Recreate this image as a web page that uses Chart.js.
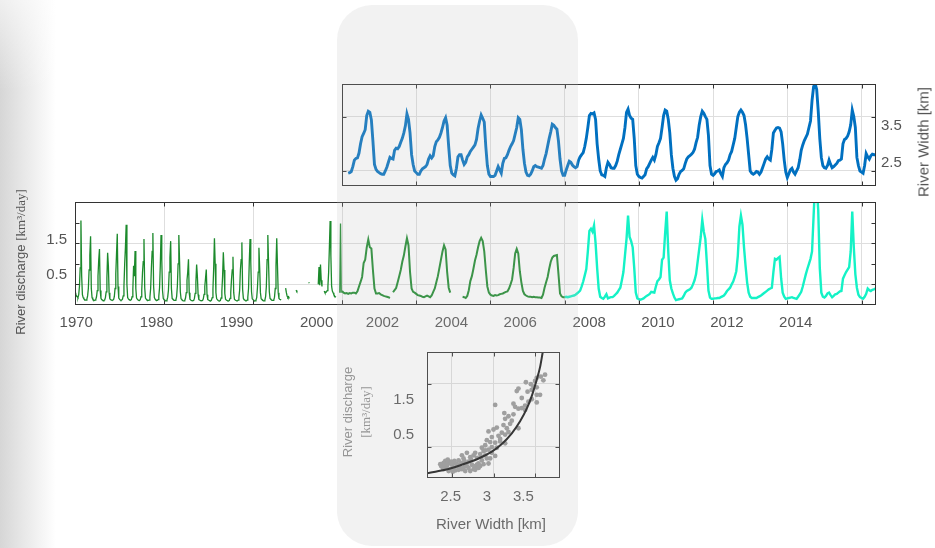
<!DOCTYPE html>
<html>
<head>
<meta charset="utf-8">
<script src="https://cdn.jsdelivr.net/npm/chart.js@4.4.0/dist/chart.umd.min.js"></script>
<style>
  body { margin: 0; width: 935px; height: 548px; background: #fff; position: relative; overflow: hidden;
         font-family: 'Liberation Sans', Arial, sans-serif; }
  canvas { position: absolute; z-index: 1; }
  #shadow { position: absolute; left: 0; top: 0; width: 56px; height: 548px;
            background: linear-gradient(to bottom, rgba(255,255,255,0.6), rgba(255,255,255,0) 90px),
                        linear-gradient(to right, #d6d6d6, #e9e9e9 45%, #ffffff); }
  #band { position: absolute; left: 337px; top: 5px; width: 241px; height: 541px; border-radius: 35px;
          background: rgba(190,190,190,0.2); z-index: 5; }
  .vt { position: absolute; z-index: 2; transform: translate(-50%, -50%) rotate(-90deg); white-space: nowrap; color: #555; }
  .serif { font-family: 'Liberation Serif', 'Times New Roman', serif; }
</style>
</head>
<body>
<div id="shadow"></div>
<canvas id="widthChart" width="635" height="130" style="left:300px;top:70px"></canvas>
<canvas id="dischargeChart" width="860" height="160" style="left:40px;top:185px"></canvas>
<canvas id="ratingChart" width="200" height="210" style="left:380px;top:330px"></canvas>

<div class="vt" style="left:923px;top:142px;font-size:15px">River Width [km]</div>
<div class="vt" style="left:21px;top:262px;font-size:13px">River discharge <span class="serif">[km³/day]</span></div>
<div class="vt" style="left:357px;top:412px;font-size:13px;line-height:18px;text-align:center;color:#8c8c8c">River discharge<br><span class="serif">[km³/day]</span></div>
<div style="position:absolute;z-index:2;left:491px;top:523px;transform:translate(-50%,-50%);font-size:15px;color:#555;white-space:nowrap">River Width [km]</div>
<div id="band"></div>

<script>
// river width [km], from 2000.0, 24 samples a year
const widthKm = [
  null, null, null, null, 2.46, 2.47, 2.49, 2.58, 2.70, 2.73, 2.74, 2.83, 3.00, 3.13, 3.19, 3.26, 3.52, 3.60, 3.58, 3.44, 3.05, 2.62, 2.53, 2.49,
  2.47, 2.45, 2.44, 2.44, 2.50, 2.57, 2.66, 2.75, 2.73, 2.72, 2.88, 2.92, 2.91, 2.95, 3.03, 3.10, 3.20, 3.33, 3.55, 3.45, 3.20, 2.80, 2.62, 2.50,
  2.47, 2.44, 2.44, 2.50, 2.54, 2.56, 2.58, 2.62, 2.72, 2.78, 2.74, 2.78, 2.95, 3.04, 3.07, 3.12, 3.20, 3.30, 3.42, 3.48, 3.34, 2.95, 2.60, 2.46,
  2.43, 2.41, 2.55, 2.76, 2.80, 2.80, 2.70, 2.62, 2.66, 2.76, 2.80, 2.86, 2.90, 2.94, 2.98, 3.08, 3.28, 3.42, 3.53, 3.47, 3.40, 2.95, 2.60, 2.44,
  2.40, 2.40, 2.40, 2.42, 2.50, 2.58, 2.52, 2.46, 2.64, 2.73, 2.74, 2.80, 2.88, 2.95, 3.00, 3.06, 3.18, 3.30, 3.48, 3.45, 3.26, 2.90, 2.64, 2.48,
  2.42, 2.41, 2.44, 2.50, 2.58, 2.60, 2.58, 2.57, 2.56, 2.55, 2.60, 2.72, 2.82, 2.96, 3.10, 3.22, 3.36, 3.34, 3.30, 3.27, 3.05, 2.72, 2.50, 2.42,
  2.42, 2.52, 2.60, 2.68, 2.66, 2.61, 2.58, 2.56, 2.58, 2.70, 2.76, 2.80, 2.84, 2.95, 3.10, 3.30, 3.52, 3.56, 3.55, 3.57, 3.45, 3.00, 2.72, 2.50,
  2.43, 2.42, 2.40, 2.56, 2.66, 2.62, 2.56, 2.55, 2.55, 2.60, 2.68, 2.80, 2.90, 3.00, 3.10, 3.30, 3.58, 3.64, 3.52, 3.47, 3.45, 3.10, 2.60, 2.44,
  2.40, 2.38, 2.37, 2.40, 2.43, 2.54, 2.58, 2.64, 2.70, 2.75, 2.70, 2.80, 2.95, 3.02, 3.10, 3.30, 3.52, 3.62, 3.60, 3.45, 3.20, 2.80, 2.55, 2.40,
  2.33, 2.36, 2.44, 2.49, 2.51, 2.54, 2.64, 2.72, 2.76, 2.78, 2.81, 2.84, 2.90, 3.02, 3.12, 3.34, 3.50, 3.60, 3.56, 3.50, 3.45, 3.15, 2.60, 2.44,
  2.42, 2.45, 2.49, 2.50, 2.52, 2.45, 2.40, 2.56, 2.62, 2.65, 2.70, 2.80, 2.86, 2.98, 3.10, 3.30, 3.50, 3.58, 3.62, 3.58, 3.52, 3.35, 3.10, 2.80,
  2.50, 2.46, 2.44, 2.46, 2.49, 2.48, 2.44, 2.48, 2.56, 2.64, 2.72, 2.76, 2.72, 2.70, 2.90, 3.20, 3.25, 3.29, 3.30, 3.29, 3.22, 3.00, 2.70, 2.48,
  2.38, 2.45, 2.52, 2.55, 2.48, 2.44, 2.50, 2.56, 2.70, 2.88, 2.98, 3.06, 3.12, 3.18, 3.30, 3.42, 3.80, 4.05, 4.11, 4.00, 3.60, 3.10, 2.75, 2.60,
  2.56, 2.55, 2.60, 2.70, 2.62, 2.56, 2.58, 2.61, 2.64, 2.69, 2.70, 2.72, 3.00, 3.08, 3.10, 3.14, 3.22, 3.35, 3.62, 3.50, 3.30, 2.75, 2.60, 2.50,
  2.48, 2.46, 2.60, 2.82, 2.76, 2.72, 2.78, 2.81, 2.80, 2.80
];

// river discharge [km3/day], same sampling as widthKm
const dischargeKm3 = [
  0.34, 0.30, 0.28, 0.29, 0.27, 0.29, 0.28, 0.30, 0.30, 0.28, 0.33, 0.45, 0.56, 0.68, 1.02, 1.10, 1.40, 1.59, 1.40, 1.37, 0.85, 0.40, 0.28, 0.28,
  0.29, 0.26, 0.24, 0.22, 0.21, 0.20, 0.19, 0.17, null, 0.31, 0.36, 0.41, 0.55, 0.70, 0.85, 1.05, 1.20, 1.42, 1.62, 1.45, 0.80, 0.40, 0.32, 0.30,
  0.27, 0.24, 0.23, 0.22, 0.20, 0.19, 0.21, 0.23, 0.21, 0.19, 0.23, 0.32, 0.40, 0.55, 0.70, 0.90, 1.10, 1.30, 1.45, 1.35, 0.80, 0.42, 0.30, null,
  null, null, null, null, null, null, 0.20, 0.19, 0.17, 0.22, 0.36, 0.58, 0.70, 0.88, 1.08, 1.22, 1.40, 1.55, 1.63, 1.55, 1.30, 0.85, 0.45, 0.30,
  0.25, 0.23, 0.22, 0.24, 0.23, 0.24, 0.26, 0.27, 0.28, 0.30, 0.32, 0.33, 0.40, 0.50, 0.62, 0.90, 1.25, 1.36, 1.25, 0.82, 0.55, 0.34, 0.26, 0.23,
  0.21, 0.20, 0.20, 0.19, 0.20, 0.19, 0.19, 0.18, 0.18, 0.17, 0.25, 0.42, 0.55, 0.68, 0.88, 1.05, 1.15, 1.19, 1.20, 1.21, 0.75, 0.28, 0.21, 0.19,
  0.19, 0.20, 0.19, 0.20, 0.21, 0.22, 0.23, 0.25, 0.28, 0.31, 0.35, 0.45, 0.57, 0.72, 0.87, 1.30, 1.80, 1.85, 1.78, 1.93, 1.50, 0.90, 0.40, 0.20,
  0.17, 0.15, 0.20, 0.26, 0.16, 0.18, 0.19, 0.19, 0.22, 0.26, 0.30, 0.36, 0.42, 0.60, 0.80, 1.20, 1.60, 2.17, 1.65, 1.55, 1.40, 0.90, 0.30, 0.16,
  0.14, 0.13, 0.14, 0.16, 0.19, 0.22, 0.24, 0.27, 0.32, 0.31, 0.30, 0.45, 0.58, 0.62, 0.68, 1.10, 1.15, 1.75, 2.27, 1.30, 0.60, 0.40, 0.28, 0.18,
  0.12, 0.13, 0.14, 0.15, 0.16, 0.22, 0.30, 0.34, 0.36, 0.38, 0.42, 0.50, 0.60, 0.75, 1.05, 1.35, 1.65, 2.07, 1.78, 1.60, 1.00, 0.35, 0.18, 0.15,
  0.15, 0.16, 0.16, 0.17, 0.17, 0.19, 0.21, 0.23, 0.28, 0.34, 0.38, 0.42, 0.50, 0.57, 0.68, 0.82, 1.20, 1.90, 2.17, 1.95, 1.40, 0.95, 0.55, 0.30,
  0.20, 0.17, 0.17, 0.17, 0.17, 0.19, 0.21, 0.23, 0.26, 0.29, 0.32, 0.35, 0.38, 0.40, 0.42, 0.80, 1.12, 1.10, 1.14, 1.17, 0.65, 0.30, 0.20, 0.15,
  0.16, 0.17, 0.18, 0.19, 0.17, 0.16, 0.15, 0.20, 0.26, 0.32, 0.45, 0.60, 0.75, 0.88, 1.00, 1.12, 1.30, 2.16, 3.00, 2.90, 2.30, 0.90, 0.30, 0.20,
  0.18, 0.22, 0.28, 0.30, 0.24, 0.19, 0.22, 0.26, 0.27, 0.30, 0.33, 0.34, 0.64, 0.72, 0.80, 0.86, 0.92, 1.30, 2.27, 1.40, 0.75, 0.42, 0.25, 0.19,
  0.17, 0.15, 0.20, 0.27, 0.40, 0.36, 0.34, 0.37, 0.38, 0.40
];

// historic river discharge [km3/day], monthly from 1970
const historicDischarge = [
  0.30, 0.26, 0.22, 0.20, 0.18, 0.25, 0.45, 0.90, 2.05, 0.70, 0.25, 0.18,
  0.15, 0.13, 0.12, 0.12, 0.14, 0.22, 0.40, 0.85, 1.20, 1.67, 0.40, 0.18,
  0.14, 0.12, 0.11, 0.12, 0.13, 0.20, 0.35, 0.70, 1.10, 1.36, 0.35, 0.16,
  0.13, 0.12, 0.10, 0.11, 0.12, 0.18, 0.32, 0.65, 1.27, 0.95, 0.30, 0.15,
  0.13, 0.12, 0.11, 0.11, 0.13, 0.20, 0.40, 0.75, 1.25, 1.73, 0.45, 0.17,
  0.14, 0.12, 0.11, 0.12, 0.14, 0.22, 0.45, 1.00, 1.40, 1.95, 0.50, 0.18,
  0.15, 0.13, 0.12, 0.12, 0.13, 0.20, 0.38, 0.95, 0.70, 1.31, 0.40, 0.17,
  0.14, 0.12, 0.11, 0.11, 0.13, 0.20, 0.36, 0.78, 1.05, 1.60, 0.42, 0.17,
  0.14, 0.12, 0.11, 0.11, 0.12, 0.19, 0.40, 0.90, 1.30, 1.75, 0.45, 0.18,
  0.14, 0.12, 0.11, 0.11, 0.13, 0.21, 0.42, 0.95, 1.70, 1.10, 0.35, 0.16,
  0.13, 0.12, 0.10, 0.10, 0.12, 0.19, 0.36, 0.80, 1.15, 1.55, 0.40, 0.16,
  0.14, 0.12, 0.11, 0.11, 0.12, 0.20, 0.45, 1.00, 1.70, 1.05, 0.32, 0.15,
  0.13, 0.11, 0.10, 0.10, 0.11, 0.17, 0.30, 0.60, 0.80, 1.11, 0.30, 0.14,
  0.12, 0.11, 0.10, 0.10, 0.11, 0.16, 0.28, 0.55, 0.98, 0.70, 0.25, 0.13,
  0.12, 0.11, 0.10, 0.10, 0.11, 0.15, 0.26, 0.45, 0.65, 0.86, 0.25, 0.13,
  0.12, 0.11, 0.10, 0.10, 0.12, 0.18, 0.38, 0.90, 1.62, 1.00, 0.30, 0.15,
  0.13, 0.11, 0.10, 0.10, 0.11, 0.17, 0.33, 0.70, 1.28, 0.85, 0.28, 0.14,
  0.12, 0.11, 0.10, 0.10, 0.11, 0.16, 0.30, 0.62, 0.85, 1.17, 0.30, 0.14,
  0.12, 0.11, 0.10, 0.10, 0.12, 0.18, 0.36, 0.85, 1.10, 1.52, 0.38, 0.16,
  0.13, 0.12, 0.10, 0.10, 0.12, 0.19, 0.40, 1.05, 1.60, 1.05, 0.32, 0.15,
  0.13, 0.11, 0.10, 0.10, 0.12, 0.18, 0.42, 0.80, 1.39, 0.90, 0.30, 0.15,
  0.13, 0.12, 0.10, 0.10, 0.12, 0.20, 0.45, 1.10, 1.70, 1.00, 0.32, 0.16,
  0.14, 0.12, 0.11, 0.11, 0.12, 0.19, 0.40, 0.95, 1.62, 0.95, 0.30, 0.16,
  0.14, 0.13, 0.12, 0.12, null, null, null, null, 0.41, 0.30, 0.22, 0.18,
  0.20, 0.16, null, null, null, null, null, null, null, null, 0.36, 0.33,
  0.34, null, null, null, null, null, null, null, null, null, null, null,
  null, null, null, 0.55, 0.53, null, null, null, null, null, null, null,
  null, null, null, null, 0.50, 0.92, 0.48, 0.98, 0.60, 0.45, null, null,
  0.34, 0.30, 0.30, 0.32, 0.35, 0.45, 0.80, 1.40, 2.04, 1.20, 0.45, 0.34,
  0.30, 0.25, 0.22, 0.20, 0.19, null, null, null, null, 0.30, 1.98, 0.30
];

const recentStart = 2000;
const recentPerYear = 24;
const historicStart = 1970;
const historicPerYear = 12;
const splitYear = 2006;

// width vs discharge cloud and its fitted curve
const scatterWidth = [3.62, 3.57, 3.60, 3.52, 3.50, 3.39, 3.45, 3.48, 3.52, 3.46, 3.30, 3.28, 3.41, 3.52, 3.56, 3.34, 3.46, 3.42, 3.38, 3.24,
  3.26, 3.30, 3.34, 3.02, 3.38, 3.52, 3.13, 3.18, 3.14, 3.24, 3.22, 3.20, 3.12, 3.04, 3.16, 3.30, 2.94, 3.00, 3.18, 3.10,
  3.14, 3.06, 2.98, 2.92, 2.96, 3.02, 3.08, 2.90, 2.98, 3.04, 3.14, 2.94, 2.86, 2.88, 2.84, 2.90, 2.78, 2.92, 2.86, 2.82,
  2.76, 2.68, 2.72, 2.62, 2.64, 2.58, 2.70, 2.74, 2.78, 2.66, 2.54, 2.50, 2.46, 2.42, 2.40, 2.38, 2.44, 2.52, 2.56, 2.60,
  2.62, 2.48, 2.42, 2.37, 2.40, 2.46, 2.54, 2.58, 2.64, 2.70, 2.76, 2.80, 2.84, 2.68, 2.43, 2.49, 2.53, 2.45, 2.41, 2.56,
  2.61, 2.65, 2.73, 2.36, 2.39, 2.51, 2.66, 2.72, 2.78, 2.82, 2.88, 2.94, 2.96, 2.85, 2.80, 3.02, 2.98, 2.90, 3.08];
const scatterDischarge = [1.64, 1.61, 1.55, 1.59, 1.54, 1.52, 1.49, 1.45, 1.44, 1.40, 1.42, 1.38, 1.37, 1.32, 1.32, 1.27, 1.25, 1.21, 1.15, 1.18,
  1.13, 1.10, 1.11, 1.16, 1.08, 1.20, 1.03, 0.98, 0.94, 1.01, 0.91, 0.86, 0.84, 0.80, 0.79, 0.79, 0.74, 0.77, 0.73, 0.72,
  0.69, 0.67, 0.65, 0.60, 0.57, 0.56, 0.58, 0.52, 0.49, 0.48, 0.55, 0.45, 0.48, 0.43, 0.38, 0.36, 0.40, 0.31, 0.28, 0.23,
  0.36, 0.40, 0.33, 0.36, 0.31, 0.28, 0.26, 0.21, 0.19, 0.21, 0.23, 0.21, 0.23, 0.27, 0.24, 0.21, 0.19, 0.16, 0.19, 0.16,
  0.14, 0.14, 0.16, 0.19, 0.14, 0.11, 0.12, 0.13, 0.16, 0.16, 0.14, 0.21, 0.19, 0.19, 0.21, 0.26, 0.27, 0.29, 0.22, 0.22,
  0.24, 0.27, 0.29, 0.22, 0.16, 0.10, 0.11, 0.11, 0.13, 0.16, 0.22, 0.23, 0.31, 0.33, 0.32, 0.35, 0.40, 0.44, 0.62];
const fitWidth = [2.20, 2.34, 2.50, 2.66, 2.82, 2.98, 3.10, 3.22, 3.32, 3.40, 3.46, 3.52, 3.56, 3.59, 3.62];
const fitDischarge = [0.075, 0.11, 0.16, 0.23, 0.31, 0.42, 0.54, 0.71, 0.90, 1.10, 1.30, 1.56, 1.76, 1.98, 2.20];

// axis ticks and labels
const recentGridYears = [2000, 2002, 2004, 2006, 2008, 2010, 2012, 2014];
const historicGridYears = [1970, 1980, 1990, 2000];
const recentLabelYears = [2002, 2004, 2006, 2008, 2010, 2012, 2014];
const historicLabelYears = [1970, 1980, 1990, 2000];
const widthTicks = [2.5, 3.5];
const widthTickLabels = ['2.5', '3.5'];
const dischargeTicks = [0.5, 1, 1.5, 2];
const dischargeGrid = [0.5, 1.5];
const dischargeLabelTicks = [0.5, 1.5];
const dischargeTickLabels = ['0.5', '1.5'];
const ratingWidthTicks = [2.5, 3, 3.5];
const ratingWidthLabels = ['2.5', '3', '3.5'];

Chart.defaults.font.family = "'Liberation Sans', Arial, sans-serif";
Chart.defaults.animation = false;

const gridColor = '#dedede';
const textColor = '#555';

const toPoints = (vals, start, perYear) => vals.map((v, i) => ({x: start + i / perYear, y: v}));

// frame round the plot area, with short ticks pointing inwards
const framePlugin = {
  id: 'frame',
  afterDatasetsDraw(chart, args, opts) {
    const {ctx, chartArea: a} = chart;
    const L = Math.round(a.left) + 0.5, R = Math.round(a.right) - 0.5;
    const T = Math.round(a.top) + 0.5, B = Math.round(a.bottom) - 0.5;
    ctx.save();
    ctx.strokeStyle = '#333';
    ctx.lineWidth = 1;
    ctx.beginPath();
    (opts.x || []).forEach(id => {
      const s = chart.scales[id];
      s.ticks.forEach(t => {
        const p = Math.round(s.getPixelForValue(t.value)) + 0.5;
        ctx.moveTo(p, T); ctx.lineTo(p, T + 4);
        ctx.moveTo(p, B); ctx.lineTo(p, B - 4);
      });
    });
    (opts.y || []).forEach(id => {
      const s = chart.scales[id];
      s.ticks.forEach(t => {
        const p = Math.round(s.getPixelForValue(t.value)) + 0.5;
        ctx.moveTo(L, p); ctx.lineTo(L + 4, p);
        ctx.moveTo(R, p); ctx.lineTo(R - 4, p);
      });
    });
    ctx.stroke();
    ctx.strokeRect(L, T, R - L, B - T);
    ctx.restore();
  }
};

// axis that carries the data and the grid, no labels
function dataAxis(position, min, max, tickValues, extra) {
  return Object.assign({
    type: 'linear', position, min, max,
    afterBuildTicks: s => { s.ticks = tickValues.map(v => ({value: v})); },
    afterFit: s => { if (s.isHorizontal()) s.height = 0; else s.width = 0; },
    ticks: {display: false},
    grid: {color: gridColor, drawTicks: false},
    border: {display: false}
  }, extra || {});
}

// axis that only carries the tick labels
function labelAxis(position, min, max, tickValues, tickText, size, padding, extra) {
  return Object.assign({
    type: 'linear', position, min, max,
    afterBuildTicks: s => { s.ticks = tickValues.map(v => ({value: v})); },
    afterFit: s => { if (s.isHorizontal()) s.height = size; else s.width = size; },
    ticks: {
      color: textColor, font: {size: 15}, padding, autoSkip: false, maxRotation: 0,
      callback: (v, i) => tickText[i]
    },
    grid: {display: false, drawTicks: false},
    border: {display: false}
  }, extra || {});
}

const noPlugins = {legend: {display: false}, tooltip: {enabled: false}};

// top panel: river width
new Chart(document.getElementById('widthChart'), {
  type: 'line',
  data: {
    datasets: [{
      data: toPoints(widthKm, recentStart, recentPerYear),
      borderColor: '#0070c0', borderWidth: 2.9, pointRadius: 0, xAxisID: 'x', yAxisID: 'y'
    }]
  },
  options: {
    responsive: false, devicePixelRatio: 1,
    layout: {padding: {left: 42, top: 10, right: 0, bottom: 11}},
    scales: {
      x: dataAxis('top', 2000, 2014.39, recentGridYears),
      y: dataAxis('left', 2.224, 4.10, widthTicks),
      yLbl: labelAxis('right', 1.871, 4.645, widthTicks, widthTickLabels, 59, 5)
    },
    plugins: Object.assign({frame: {x: ['x'], y: ['y']}}, noPlugins)
  },
  plugins: [framePlugin]
});

// middle panel: river discharge, 1970-2000 compressed, 2000 onwards stretched
const splitIndex = (splitYear - recentStart) * recentPerYear;
const recentPoints = toPoints(dischargeKm3, recentStart, recentPerYear);

new Chart(document.getElementById('dischargeChart'), {
  type: 'line',
  data: {
    datasets: [
      {
        data: toPoints(historicDischarge, historicStart, historicPerYear),
        borderColor: '#1c8a2c', borderWidth: 1.3, pointRadius: 0, xAxisID: 'xOld', yAxisID: 'y'
      },
      {
        data: recentPoints.slice(0, splitIndex + 1),
        borderColor: '#1c8a2c', borderWidth: 2, pointRadius: 0, xAxisID: 'xNew', yAxisID: 'y'
      },
      {
        data: recentPoints.slice(splitIndex),
        borderColor: '#14f2c6', borderWidth: 2.4, pointRadius: 0, xAxisID: 'xNew', yAxisID: 'y'
      }
    ]
  },
  options: {
    responsive: false, devicePixelRatio: 1,
    layout: {padding: {left: 0, top: 10, right: 24, bottom: 10}},
    scales: {
      // top stacks are laid out in reverse order, so the later period comes first here
      xNew: dataAxis('top', 2000, 2014.39, recentGridYears, {stack: 'top', stackWeight: 534}),
      xOld: dataAxis('top', 1970, 2000, historicGridYears, {stack: 'top', stackWeight: 267}),
      xOldLbl: labelAxis('bottom', 1969.84, 2003.17, historicLabelYears, historicLabelYears.map(String), 30, 9,
                         {stack: 'bottom', stackWeight: 267}),
      xNewLbl: labelAxis('bottom', 2000.824, 2016.33, recentLabelYears, recentLabelYears.map(String), 30, 9,
                         {stack: 'bottom', stackWeight: 534}),
      yLbl: labelAxis('left', -0.343, 2.582, dischargeLabelTicks, dischargeTickLabels, 35, 8),
      y: dataAxis('left', 0, 2.5, dischargeTicks, {
        grid: {
          drawTicks: false,
          color: c => (c.tick && dischargeGrid.includes(c.tick.value)) ? gridColor : 'rgba(0,0,0,0)'
        }
      })
    },
    plugins: Object.assign({frame: {x: ['xOld', 'xNew'], y: ['y']}}, noPlugins)
  },
  plugins: [framePlugin]
});

// bottom panel: width against discharge
new Chart(document.getElementById('ratingChart'), {
  type: 'scatter',
  data: {
    datasets: [
      {
        data: fitWidth.map((w, i) => ({x: w, y: fitDischarge[i]})),
        showLine: true, borderColor: '#141414', borderWidth: 2, pointRadius: 0,
        cubicInterpolationMode: 'monotone', xAxisID: 'x', yAxisID: 'y'
      },
      {
        data: scatterWidth.map((w, i) => ({x: w, y: scatterDischarge[i]})),
        pointRadius: 2.4, pointBorderWidth: 0, backgroundColor: '#989898', xAxisID: 'x', yAxisID: 'y'
      }
    ]
  },
  options: {
    responsive: false, devicePixelRatio: 1,
    layout: {padding: {left: 0, top: 12, right: 20, bottom: 32}},
    scales: {
      x: dataAxis('top', 2.2, 3.8, ratingWidthTicks),
      xLbl: labelAxis('bottom', 2.174, 4.005, ratingWidthTicks, ratingWidthLabels, 30, 10),
      yLbl: labelAxis('left', -0.706, 2.836, dischargeLabelTicks, dischargeTickLabels, 47, 13),
      y: dataAxis('left', 0, 2, dischargeGrid)
    },
    plugins: Object.assign({frame: {x: ['x'], y: ['y']}}, noPlugins)
  },
  plugins: [framePlugin]
});
</script>
</body>
</html>
